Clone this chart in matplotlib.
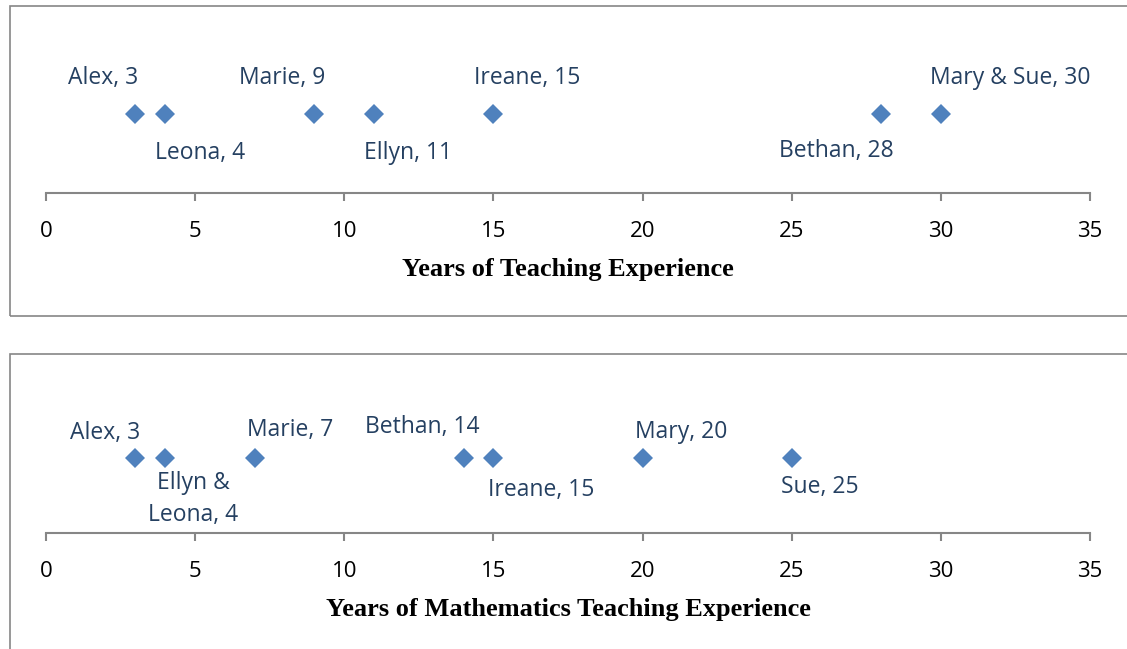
import matplotlib.pyplot as plt
from matplotlib.patches import Rectangle

# ---------------- data ----------------
teach_names = ["Alex, 3", "Leona, 4", "Marie, 9", "Ellyn, 11", "Ireane, 15", "Bethan, 28", "Mary & Sue, 30"]
teach_years = [3, 4, 9, 11, 15, 28, 30]

math_names = ["Alex, 3", "Ellyn &\nLeona, 4", "Marie, 7", "Bethan, 14", "Ireane, 15", "Mary, 20", "Sue, 25"]
math_years = [3, 4, 7, 14, 15, 20, 25]

xticks = [0, 5, 10, 15, 20, 25, 30, 35]

# label offsets in pixels (manual placement as in the original)
teach_offsets = [(-32, 36), (35, -39), (-32, 36), (34, -39), (34, 36), (-45, -37), (69, 36)]
math_offsets = [(-30, 25), (28, -41), (35, 28), (-41, 31), (48, -32), (39, 26), (28, -29)]

# ---------------- style ----------------
W, H = 1127, 649
marker_col = '#4F81BD'
label_col = '#254061'
grey = '#868686'
label_font = 'Open Sans'

fig = plt.figure(figsize=(W / 100, H / 100), dpi=100)

# outer chart frames
fig.patches.append(Rectangle((10 / W, 1 - 316 / H), 1.2, 310 / H, transform=fig.transFigure,
                             fill=False, edgecolor=grey, lw=1.2))
fig.patches.append(Rectangle((10 / W, -0.2), 1.2, 0.2 + 1 - 354 / H, transform=fig.transFigure,
                             fill=False, edgecolor=grey, lw=1.2))


def strip(ax, years, names, offsets, xlabel):
    ax.plot(years, [1] * len(years), linestyle='none', marker='D', markersize=10.5,
            color=marker_col, markeredgewidth=0)
    for x, name, (dx, dy) in zip(years, names, offsets):
        ax.annotate(name, (x, 1), xytext=(dx, dy), textcoords='offset pixels',
                    ha='center', va='center', color=label_col, fontsize=16.5,
                    family=label_font, linespacing=1.4)
    ax.set_xlim(0, 35)
    ax.set_ylim(0, 2)
    ax.set_xticks(xticks)
    ax.set_yticks([])
    for s in ['top', 'right', 'left']:
        ax.spines[s].set_visible(False)
    ax.spines['bottom'].set_color(grey)
    ax.spines['bottom'].set_linewidth(1.5)
    ax.tick_params(axis='x', direction='out', length=6, width=1.5, color=grey,
                   labelsize=16, pad=14)
    for t in ax.get_xticklabels():
        t.set_family(label_font)
    ax.set_xlabel(xlabel, family='Liberation Serif', fontweight='bold', fontsize=19,
                  labelpad=12)
    ax.patch.set_alpha(0)


left = 46 / W
width = (1090 - 46) / W

ax1 = fig.add_axes([left, 1 - 193 / H, width, 158 / H])
strip(ax1, teach_years, teach_names, teach_offsets, 'Years of Teaching Experience')

ax2 = fig.add_axes([left, 1 - 533 / H, width, 150 / H])
strip(ax2, math_years, math_names, math_offsets, 'Years of Mathematics Teaching Experience')

fig.savefig('out.png', dpi=100)
